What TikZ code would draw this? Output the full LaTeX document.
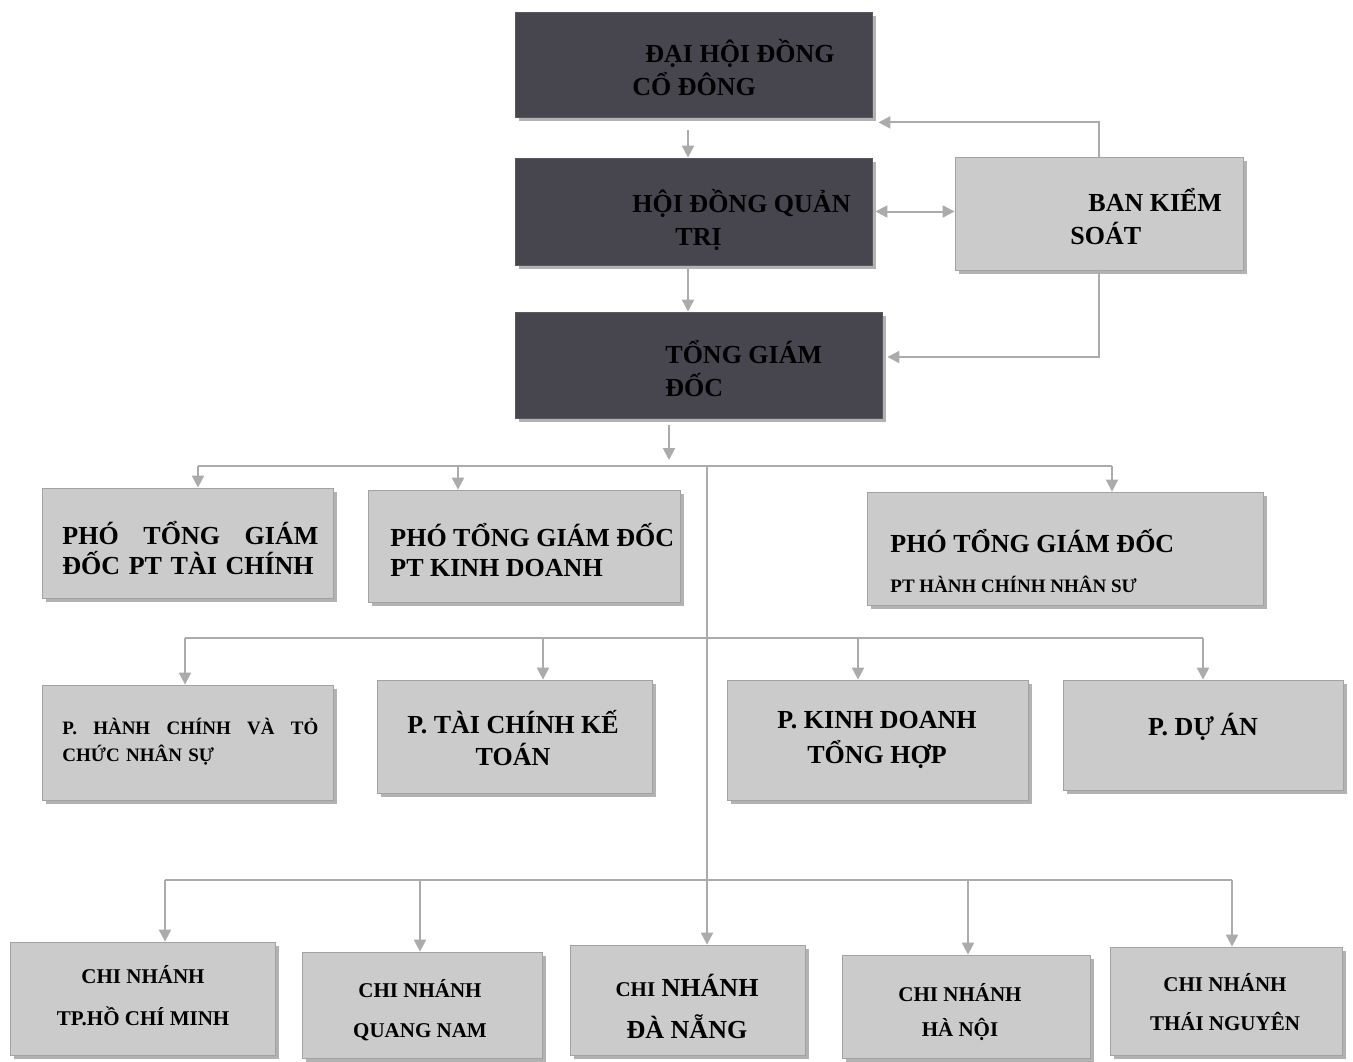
\documentclass[tikz,border=0pt]{standalone}
\usepackage{fontspec}
\setmainfont{Liberation Serif}
\usepackage{tikz}
\usetikzlibrary{calc,arrows.meta,shadows}
\definecolor{BoardDark}{HTML}{47454E}
\definecolor{BoardEdge}{HTML}{5A5860}
\definecolor{UnitGray}{HTML}{CBCBCB}
\definecolor{UnitEdge}{HTML}{A2A2A2}
\definecolor{ShadeGray}{HTML}{B2B2B2}
\definecolor{LinkGray}{HTML}{ABABAB}
\newcommand{\bigtxt}[1]{\fontsize{13}{#1}\selectfont\bfseries}
\newcommand{\smalltxt}[1]{\fontsize{10.5}{#1}\selectfont\bfseries}

\tikzset{
  unit/.style={draw=UnitEdge, line width=0.4pt, fill=UnitGray, inner sep=0pt,
    drop shadow={shadow xshift=2pt, shadow yshift=-2pt, fill=ShadeGray, opacity=1}},
  board/.style={unit, fill=BoardDark, draw=BoardEdge},
  bus/.style={LinkGray, line width=1pt},
  link/.style={bus, ->},
  lbl/.style={inner sep=0pt},
}

\begin{document}
\begin{tikzpicture}[x=0.5pt, y=-0.5pt, >={Triangle[length=6pt,width=6pt]}]
  \fill[white] (0,0) rectangle (1353,1061);
  \useasboundingbox (0,0) rectangle (1353,1061);

  % Board level
  \node[board, minimum width=178.5pt, minimum height=52.5pt] (dhdcd) at (693.5,64.5) {};
  \node[board, minimum width=178.5pt, minimum height=53.5pt] (hdqt) at (693.5,211.5) {};
  \node[unit, minimum width=144pt, minimum height=56.5pt] (bks) at (1099,213.5) {};
  \node[board, minimum width=183.5pt, minimum height=53pt] (tgd) at (698.5,365) {};
  \node[lbl, font=\bigtxt{16.5}, align=left, anchor=west] (dhdcd-t) at (632,68)
    {\hspace*{6.5pt}ĐẠI HỘI ĐỒNG\\CỔ ĐÔNG};
  \node[lbl, font=\bigtxt{16.5}, align=left, anchor=west] (hdqt-t) at (632,220)
    {HỘI ĐỒNG QUẢN\\\hspace*{21.5pt}TRỊ};
  \node[lbl, font=\bigtxt{16.5}, align=left, anchor=west] (bks-t) at (1070,217)
    {\hspace*{9pt}BAN KIỂM\\SOÁT};
  \node[lbl, font=\bigtxt{16.5}, align=left, anchor=west] (tgd-t) at (665,369)
    {TỔNG GIÁM\\ĐỐC};

  % Deputies
  \node[unit, minimum width=145.5pt, minimum height=55pt] (ptc) at (187.5,543) {};
  \node[unit, minimum width=156pt, minimum height=56pt] (pkd) at (524,546) {};
  \node[unit, minimum width=198pt, minimum height=56.5pt] (phc) at (1065,548.5) {};
  \node[lbl, font=\bigtxt{15}, text width=128pt, align=left, anchor=west] (ptc-t) at (62,548)
    {PHÓ\hfill TỔNG\hfill GIÁM\\ĐỐC PT TÀI CHÍNH};
  \node[lbl, font=\bigtxt{15}, align=left, anchor=west] (pkd-t) at (390,550)
    {PHÓ TỔNG GIÁM ĐỐC\\PT KINH DOANH};
  \node[lbl, font=\bigtxt{20}, align=left, anchor=west] (phc-t) at (890,561)
    {PHÓ TỔNG GIÁM ĐỐC\\{\fontsize{9.5}{11}\selectfont PT HÀNH CHÍNH NHÂN SƯ}};

  % Departments
  \node[unit, minimum width=145.5pt, minimum height=57.5pt] (phcns) at (187.5,742.5) {};
  \node[unit, minimum width=137.5pt, minimum height=56.5pt] (ptckt) at (514.5,736.5) {};
  \node[unit, minimum width=150.5pt, minimum height=60pt] (pkdth) at (877.5,740) {};
  \node[unit, minimum width=140pt, minimum height=55pt] (pda) at (1203,735) {};
  \node[lbl, font=\fontsize{9.5}{13.5}\selectfont\bfseries,
    text width=128pt, align=left, anchor=west] (phcns-t) at (62,741.5)
    {P.\hfill HÀNH\hfill CHÍNH\hfill VÀ\hfill TỎ\\CHỨC NHÂN SỰ};
  \node[lbl, font=\bigtxt{16}, align=center] (ptckt-t) at (513,738) {P. TÀI CHÍNH KẾ\\TOÁN};
  \node[lbl, font=\bigtxt{17.5}, align=center] (pkdth-t) at (877,740) {P. KINH DOANH\\TỔNG HỢP};
  \node[lbl, font=\bigtxt{16}] (pda-t) at (1203,727) {P. DỰ ÁN};

  % Branches
  \node[unit, minimum width=132.5pt, minimum height=56.5pt] (chcm) at (142.5,998.5) {};
  \node[unit, minimum width=120pt, minimum height=53pt] (cqn) at (422,1005) {};
  \node[unit, minimum width=117.5pt, minimum height=55pt] (cdn) at (687.5,1000) {};
  \node[unit, minimum width=124pt, minimum height=51.5pt] (chn) at (966,1006.5) {};
  \node[unit, minimum width=116pt, minimum height=54pt] (ctn) at (1226,1001) {};
  \node[lbl, font=\smalltxt{21}, align=center] (chcm-t) at (143,996) {CHI NHÁNH\\TP.HỒ CHÍ MINH};
  \node[lbl, font=\smalltxt{20}, align=center] (cqn-t) at (420,1010) {CHI NHÁNH\\QUANG NAM};
  \node[lbl, font=\bigtxt{21}, align=center] (cdn-t) at (687,1006)
    {{\fontsize{10.5}{12}\selectfont CHI} NHÁNH\\ĐÀ NẴNG};
  \node[lbl, font=\smalltxt{17.5}, align=center] (chn-t) at (960,1012) {CHI NHÁNH\\HÀ NỘI};
  \node[lbl, font=\smalltxt{19.5}, align=center] (ctn-t) at (1225,1002) {CHI NHÁNH\\THÁI NGUYÊN};

  % Board links
  \draw[link] ([xshift=-2.75pt,yshift=-6.5pt]dhdcd.south) -- ([xshift=-2.75pt]hdqt.north);
  \draw[link] ([xshift=-2.75pt,yshift=-2pt]hdqt.south) -- ([xshift=-5.25pt]tgd.north);
  \draw[link, <->, shorten <=1.5pt] (hdqt.east) -- (hdqt.east -| bks.west);
  \draw[link] (bks.north) |- ([xshift=3pt,yshift=-2.5pt]dhdcd.south east);
  \draw[link] (bks.south) |- ([xshift=2.5pt,yshift=4pt]tgd.east);

  % First bus: deputies
  \coordinate (b1l) at (198,466);
  \coordinate (b1r) at (1112,466);
  \coordinate (b1m) at (669,466);
  \coordinate (b1k) at (458,466);
  \coordinate (b1s) at (707,466);
  \draw[link, shorten >=3pt] ([xshift=-14.75pt,yshift=-3.5pt]tgd.south) -- (b1m);
  \draw[bus] (b1l) -- (b1r);
  \draw[link] (b1l) -- (b1l |- ptc.north);
  \draw[link] (b1k) -- (b1k |- pkd.north);
  \draw[link] (b1r) -- (b1r |- phc.north);
  \draw[link] (b1s) -- (b1s |- cdn.north);

  % Second bus: departments
  \draw[bus] (185,638) -- (1203,638);
  \foreach \x/\n in {185/phcns, 543/ptckt, 858/pkdth, 1203/pda}
    \draw[link] (\x,638) -- (\x,638 |- \n.north);

  % Third bus: branches
  \draw[bus] (165,880) -- (1232,880);
  \foreach \x/\n in {165/chcm, 420/cqn, 968/chn, 1232/ctn}
    \draw[link] (\x,880) -- (\x,880 |- \n.north);
\end{tikzpicture}
\end{document}
